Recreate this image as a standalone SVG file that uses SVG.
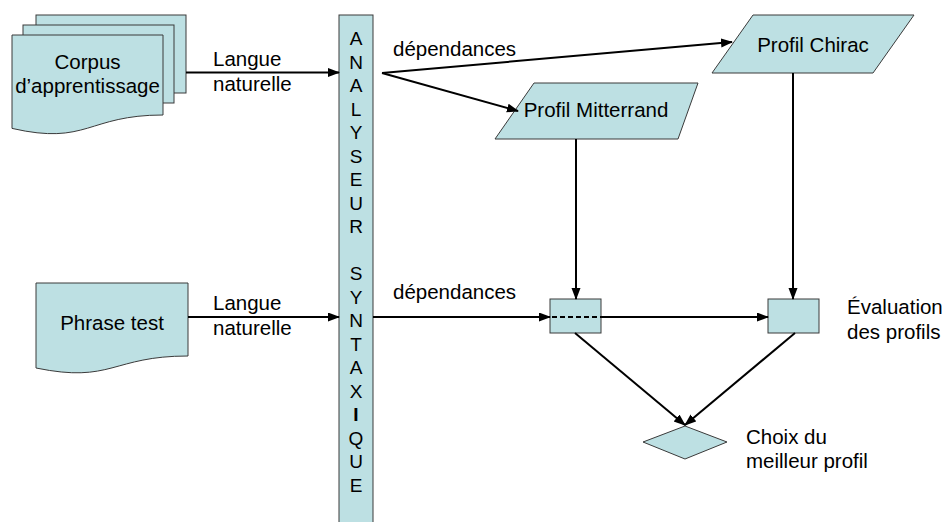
<svg xmlns="http://www.w3.org/2000/svg" width="943" height="522" viewBox="0 0 943 522">
  <style>
    .shape { fill: #bde0e3; stroke: #3a3a3a; stroke-width: 1; }
    .lbl { font-family: "Liberation Sans", Arial, sans-serif; font-size: 20.5px; fill: #000; }
    .bar { font-family: "Liberation Sans", Arial, sans-serif; font-size: 19px; fill: #000; text-anchor: middle; }
    .link { stroke: #000; stroke-width: 2; fill: none; }
    .arrow { marker-end: url(#head); }
  </style>
  <defs>
    <marker id="head" markerUnits="userSpaceOnUse" markerWidth="12" markerHeight="10" refX="11" refY="4.5" orient="auto">
      <path d="M0,0 L12,4.5 L0,9 Z" fill="#000"/>
    </marker>
  </defs>

  <rect width="943" height="522" fill="#fff"/>

  <!-- stacked documents: training corpus -->
  <g id="corpus">
    <rect class="shape" x="36" y="15" width="150" height="78"/>
    <rect class="shape" x="23" y="25" width="151" height="78"/>
    <path class="shape" d="M12,35 H163 V115 C87.5,115 87.5,145.7 12,128.4 Z"/>
    <text class="lbl" x="87.5" y="69" text-anchor="middle">Corpus</text>
    <text class="lbl" x="87.5" y="93" text-anchor="middle">d’apprentissage</text>
  </g>

  <!-- test sentence document -->
  <g id="phrase-test">
    <path class="shape" d="M36,283 H188 V356 C112,356 112,383.7 36,368 Z"/>
    <text class="lbl" x="112" y="330" text-anchor="middle">Phrase test</text>
  </g>

  <!-- vertical parser bar -->
  <g id="analyseur">
    <rect class="shape" x="339" y="15" width="34" height="520"/>
    <text class="bar" x="356" y="45">A</text>
    <text class="bar" x="356" y="68.5">N</text>
    <text class="bar" x="356" y="92">A</text>
    <text class="bar" x="356" y="115.5">L</text>
    <text class="bar" x="356" y="139">Y</text>
    <text class="bar" x="356" y="162.5">S</text>
    <text class="bar" x="356" y="186">E</text>
    <text class="bar" x="356" y="209.5">U</text>
    <text class="bar" x="356" y="233">R</text>
    <text class="bar" x="356" y="280">S</text>
    <text class="bar" x="356" y="303.5">Y</text>
    <text class="bar" x="356" y="327">N</text>
    <text class="bar" x="356" y="350.5">T</text>
    <text class="bar" x="356" y="374">A</text>
    <text class="bar" x="356" y="397.5">X</text>
    <text class="bar" x="356" y="421" font-weight="bold">I</text>
    <text class="bar" x="356" y="444.5">Q</text>
    <text class="bar" x="356" y="468">U</text>
    <text class="bar" x="356" y="491.5">E</text>
  </g>

  <!-- profile parallelograms -->
  <g id="profil-chirac">
    <path class="shape" d="M753,15 H914 L873,73 H712 Z"/>
    <text class="lbl" x="813" y="52" text-anchor="middle">Profil Chirac</text>
  </g>
  <g id="profil-mitterrand">
    <path class="shape" d="M534,83 H698 L678,139 H495 Z"/>
    <text class="lbl" x="596" y="117" text-anchor="middle">Profil Mitterrand</text>
  </g>

  <!-- evaluation boxes -->
  <g id="eval-mitterrand">
    <rect class="shape" x="550" y="299" width="51" height="34"/>
  </g>
  <g id="eval-chirac">
    <rect class="shape" x="768" y="299" width="51" height="34"/>
  </g>
  <g id="evaluation-label">
    <text class="lbl" x="847" y="314">Évaluation</text>
    <text class="lbl" x="847" y="339">des profils</text>
  </g>

  <!-- decision -->
  <g id="choix">
    <path class="shape" d="M685,426 L727,442 L685,459 L643,442 Z"/>
    <text class="lbl" x="746" y="444">Choix du</text>
    <text class="lbl" x="746" y="468">meilleur profil</text>
  </g>

  <!-- connectors -->
  <g id="connectors">
    <path class="link arrow" d="M186,72.5 H339"/>
    <path class="link arrow" d="M188,317 H339"/>
    <path class="link arrow" d="M382,73 L732,42"/>
    <path class="link arrow" d="M382,73 L518,111"/>
    <path class="link arrow" d="M373,317 H550"/>
    <path class="link" d="M552,317 H601" stroke-dasharray="5,3"/>
    <path class="link arrow" d="M601,317 H768"/>
    <path class="link arrow" d="M576,139 V299"/>
    <path class="link arrow" d="M793,73 V299"/>
    <path class="link arrow" d="M575,333 L685,425"/>
    <path class="link arrow" d="M795,333 L685,425"/>
    <text class="lbl" x="213" y="66">Langue</text>
    <text class="lbl" x="213" y="91">naturelle</text>
    <text class="lbl" x="213" y="310">Langue</text>
    <text class="lbl" x="213" y="335">naturelle</text>
    <text class="lbl" x="393" y="56">dépendances</text>
    <text class="lbl" x="393" y="299">dépendances</text>
  </g>
</svg>
